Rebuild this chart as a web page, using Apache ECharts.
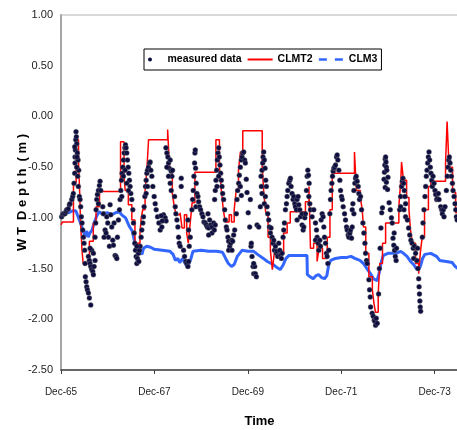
<!DOCTYPE html>
<html>
<head>
<meta charset="utf-8">
<script src="https://cdn.jsdelivr.net/npm/echarts@6/dist/echarts.min.js"></script>
<style>
  html, body { margin: 0; padding: 0; background: #fff; }
  #chart { width: 457px; height: 430px; }
</style>
</head>
<body>
<div id="chart"></div>
<script>
// x = months since Dec-65, y = water table depth (m)
var xTickLabels = ['Dec-65', 'Dec-67', 'Dec-69', 'Dec-71', 'Dec-73'];

var measured = [
  [0.17,-0.99],[0.43,-0.97],[0.6,-0.96],[1.03,-0.96],[1.29,-0.94],[1.46,-0.92],[1.89,-0.91],[2.15,-0.87],[2.32,-0.86],[2.75,-0.82],[3.0,-0.79],[3.17,-0.76],
  [3.35,-0.66],[3.52,-0.56],[3.6,-0.46],[3.69,-0.33],[3.78,-0.23],[3.86,-0.15],[4.03,-0.27],[4.2,-0.36],[4.38,-0.43],[4.55,-0.53],[3.6,-0.4],[4.03,-0.5],[4.29,-0.59],[4.46,-0.69],[4.72,-0.79],[3.52,-0.3],[3.95,-0.2],[4.12,-0.4],
  [4.89,-0.82],[5.06,-0.89],[5.23,-0.99],[5.41,-1.05],[5.58,-1.12],[5.75,-1.19],[5.92,-1.25],[6.09,-1.32],[6.18,-1.45],[6.26,-1.58],[6.44,-1.63],[6.61,-1.68],[6.78,-1.71],[7.04,-1.74],[7.29,-1.79],[7.64,-1.86],
  [7.04,-1.38],[7.29,-1.42],[7.47,-1.45],[7.64,-1.48],[7.89,-1.51],[8.15,-1.53],[8.32,-1.56],[8.5,-1.48],[8.75,-1.42],[7.89,-1.32],[8.32,-1.35],[7.47,-1.3],
  [8.75,-1.19],[8.92,-1.05],[9.01,-0.92],[9.18,-0.82],[9.35,-0.77],[9.61,-0.73],[9.87,-0.68],[10.04,-0.64],[10.21,-0.73],[9.61,-0.86],
  [10.73,-0.89],[10.9,-0.96],[11.07,-1.19],[11.33,-1.12],[11.58,-1.15],[11.75,-0.99],[12.01,-1.05],[12.18,-1.19],[12.44,-1.28],[12.61,-0.87],[12.78,-0.97],[13.04,-1.09],[13.3,-1.22],[13.47,-1.27],[13.64,-1.05],[13.9,-1.37],[14.16,-1.38],[14.33,-1.4],[14.5,-1.19],
  [14.76,-1.02],[15.02,-0.92],[15.19,-0.82],[15.36,-0.73],[15.53,-0.63],[15.7,-0.56],[15.87,-0.5],[16.04,-0.43],[16.22,-0.36],[16.39,-0.31],[16.56,-0.28],[16.73,-0.31],[16.9,-0.36],[17.08,-0.43],[17.25,-0.5],[17.42,-0.56],[17.59,-0.63],[17.76,-0.69],[17.93,-0.76],[18.19,-0.82],[16.04,-0.59],[16.47,-0.53],[16.9,-0.66],[15.62,-0.79],[17.33,-0.73],
  [18.45,-0.92],[18.62,-1.05],[18.79,-1.15],[18.96,-1.25],[19.13,-1.32],[19.31,-1.38],[19.48,-1.45],[19.65,-1.4],[19.91,-1.35],[20.16,-1.32],[20.33,-1.28],[20.59,-1.19],[20.76,-1.12],[21.02,-1.05],[19.48,-1.28],[19.99,-1.43],
  [21.19,-0.99],[21.36,-0.89],[21.54,-0.79],[21.71,-0.69],[21.88,-0.63],[22.05,-0.56],[22.22,-0.53],[22.48,-0.5],[22.74,-0.46],[22.91,-0.45],[23.08,-0.53],[23.34,-0.59],[21.88,-0.76],[22.22,-0.69],
  [23.59,-0.69],[23.94,-0.79],[24.2,-0.86],[24.45,-0.92],[24.8,-0.99],[25.14,-1.05],[25.48,-1.12],[25.91,-1.09],[26.34,-0.97],[26.77,-1.0],[27.0,-1.03],[25.7,-0.98],[26.0,-1.03],
  [26.95,-0.31],[27.2,-0.36],[27.46,-0.4],[27.63,-0.46],[27.8,-0.51],[28.06,-0.43],[28.32,-0.54],[28.49,-0.59],[28.66,-0.53],[28.06,-0.66],[28.32,-0.73],[27.2,-0.5],[27.63,-0.59],[30.89,-0.61],[30.89,-0.69],
  [29.18,-0.79],[29.35,-0.89],[29.52,-0.96],[29.78,-1.02],[30.03,-1.09],[30.21,-1.19],[30.38,-1.25],[30.63,-1.28],[31.49,-1.32],[31.75,-1.38],[32.09,-1.43],[32.35,-1.45],[32.61,-1.48],[32.78,-1.43],[32.95,-1.28],[33.21,-1.19],[32.61,-1.02],[32.78,-1.12],
  [33.64,-0.92],[33.81,-0.82],[33.98,-0.73],[34.15,-0.59],[34.32,-0.46],[34.41,-0.36],[34.5,-0.33],[34.58,-0.51],[34.75,-0.66],[34.93,-0.76],[34.67,-0.89],
  [35.18,-0.79],[35.35,-0.84],[35.61,-0.89],[35.87,-0.92],[36.21,-0.96],[36.47,-0.99],[36.73,-1.04],[37.07,-1.05],[37.33,-1.07],[37.58,-1.09],[37.93,-1.1],[37.76,-0.96],[38.19,-1.02],[38.44,-1.07],[38.79,-1.09],[39.21,-1.05],[39.64,-1.07],[38.79,-1.15],[39.39,-1.12],[37.93,-1.17],
  [39.47,-0.82],[39.64,-0.73],[39.82,-0.63],[39.99,-0.53],[40.16,-0.43],[40.33,-0.36],[40.5,-0.31],[40.67,-0.4],[40.85,-0.48],[41.02,-0.56],[41.19,-0.63],[41.36,-0.69],[41.53,-0.76],[41.79,-0.82],[40.5,-0.59],[40.07,-0.69],
  [42.05,-0.92],[42.22,-1.02],[42.48,-1.09],[42.65,-1.12],[42.9,-1.19],[43.08,-1.23],[43.33,-1.28],[43.59,-1.25],[43.85,-1.22],[44.11,-1.23],[44.36,-1.17],[44.62,-1.12],[43.08,-1.32],[43.93,-1.32],
  [45.05,-0.96],[45.22,-0.82],[45.39,-0.73],[45.65,-0.66],[45.82,-0.58],[46.08,-0.5],[46.34,-0.43],[46.51,-0.4],[46.68,-0.36],[46.94,-0.35],[47.19,-0.43],[47.37,-0.46],[46.08,-0.69],[46.34,-0.78],
  [47.6,-0.62],[47.8,-0.75],[48.1,-0.95],[48.48,-1.09],[48.82,-1.28],[49.08,-1.38],[49.34,-1.48],[49.51,-1.55],[49.77,-1.48],[48.65,-0.82],[48.9,-1.25],[49.5,-1.45],[49.94,-1.55],[50.2,-1.58],[50.37,-1.07],[50.8,-1.09],
  [51.22,-0.89],[51.4,-0.59],[51.48,-0.69],[51.65,-0.53],[51.82,-0.46],[51.91,-0.4],[52.08,-0.35],[52.25,-0.43],[52.43,-0.51],[52.6,-0.63],[52.77,-0.69],[52.51,-0.79],[52.25,-0.86],[51.65,-0.76],
  [52.94,-0.89],[53.11,-0.96],[53.37,-1.02],[53.54,-1.09],[53.8,-1.15],[53.97,-1.1],[54.23,-1.19],[54.48,-1.25],[54.66,-1.22],[54.83,-1.32],[55.09,-1.28],[55.34,-1.35],[55.51,-1.33],[55.69,-1.38],[55.94,-1.25],[56.2,-1.32],[56.37,-1.37],[56.63,-1.4],[56.8,-1.35],
  [57.06,-1.19],[57.23,-1.12],[57.4,-1.05],[57.66,-0.92],[57.92,-0.86],[58.09,-0.79],
  [58.26,-0.73],[58.52,-0.66],[58.77,-0.63],[58.95,-0.61],[59.12,-0.69],[59.37,-0.76],[59.63,-0.82],[59.8,-0.79],[60.06,-0.86],[60.23,-0.89],[60.49,-0.92],[60.66,-0.82],[60.92,-0.79],[61.09,-0.87],[61.35,-0.92],[61.52,-0.99],[60.66,-1.02],[61.95,-0.96],[61.95,-1.07],[62.21,-1.12],[62.38,-1.09],[62.64,-1.0],[62.81,-0.96],
  [63.06,-0.73],[63.24,-0.59],[63.41,-0.53],[63.58,-0.58],[63.75,-0.66],[63.67,-0.79],[63.92,-0.86],[64.09,-0.92],[64.52,-0.99],[64.95,-0.92],[65.38,-1.05],[65.64,-1.12],[65.81,-1.19],[65.38,-1.22],[66.07,-1.25],[66.24,-1.32],[66.5,-1.22],[66.67,-1.28],[66.84,-1.02],[67.1,-0.96],[67.35,-0.99],[67.53,-1.09],[67.7,-1.19],[67.96,-1.25],[68.21,-1.35],[68.38,-1.38],[68.56,-1.45],[68.81,-1.32],
  [69.07,-0.96],[69.24,-0.82],[69.41,-0.73],[69.59,-0.66],[69.76,-0.59],[69.93,-0.54],[70.1,-0.51],[70.27,-0.5],[70.53,-0.48],[70.79,-0.4],[70.96,-0.38],[71.13,-0.43],[71.39,-0.53],
  [71.64,-0.63],[71.82,-0.73],[72.07,-0.79],[72.25,-0.82],[72.5,-0.89],[72.85,-0.96],[73.1,-1.02],[73.36,-1.09],[73.53,-1.12],[73.79,-1.17],[74.05,-1.15],[74.3,-1.19],[73.96,-1.19],[74.22,-1.15],[74.39,-1.12],[74.64,-1.2],[74.82,-1.09],
  [74.99,-0.86],[75.25,-0.73],[75.5,-0.66],[75.67,-0.61],[75.85,-0.59],[76.1,-0.64],[76.36,-0.69],[76.53,-0.76],[76.7,-0.82],[76.96,-0.79],[77.22,-0.92],[75.25,-0.96],[74.82,-0.92],
  [77.56,-1.05],[77.82,-1.15],[78.08,-1.25],[78.25,-1.35],[78.51,-1.42],[78.68,-1.45],[79.11,-1.61],[79.28,-1.71],[79.45,-1.78],[79.54,-1.88],[79.96,-1.94],[80.22,-1.97],[80.48,-2.01],[80.65,-2.02],[80.82,-2.06],[81.0,-1.99],[81.25,-2.04],
  [81.6,-1.75],[81.8,-1.5],[82.0,-1.3],[82.2,-1.1],[82.4,-0.95],[82.6,-0.9],
  [83.0,-0.62],[83.1,-0.55],[83.2,-0.48],[83.3,-0.42],[83.4,-0.4],[83.5,-0.45],[83.6,-0.5],[83.7,-0.53],[83.3,-0.7],[83.6,-0.65],[83.9,-0.72],[84.0,-0.6],
  [84.3,-0.85],[84.6,-0.92],[84.9,-1.0],[85.1,-1.05],[85.3,-1.2],[85.5,-1.27],[85.7,-1.32],[85.9,-1.38],[86.1,-1.42],[85.6,-1.15],[86.2,-1.3],
  [87.0,-0.92],[87.26,-0.79],[87.51,-0.69],[87.69,-0.64],[87.86,-0.61],[88.03,-0.66],[88.2,-0.73],[88.37,-0.79],[88.54,-0.86],[88.12,-0.92],[87.26,-0.89],[88.54,-0.99],
  [89.0,-1.02],[89.3,-1.1],[89.6,-1.17],[89.9,-1.22],[90.2,-1.25],[90.5,-1.3],[90.8,-1.28],[91.1,-1.35],[91.4,-1.42],[91.7,-1.5],[91.9,-1.6],[92.0,-1.68],[92.1,-1.75],[92.2,-1.82],[92.3,-1.88],[92.4,-1.92],[91.6,-1.3],[90.6,-1.4],
  [92.83,-1.19],[93.0,-1.05],[93.26,-0.92],[93.52,-0.79],[93.69,-0.69],[93.86,-0.59],[94.04,-0.53],[94.21,-0.46],[94.38,-0.4],[94.55,-0.35],[94.72,-0.43],[94.89,-0.5],[95.07,-0.56],[95.24,-0.63],[95.41,-0.69],[95.58,-0.59],
  [95.84,-0.66],[96.09,-0.73],[96.27,-0.77],[96.52,-0.82],[96.7,-0.81],[96.95,-0.76],[97.12,-0.82],[97.55,-0.89],[97.81,-0.92],[97.98,-0.96],[98.24,-0.92],[98.41,-0.99],[98.67,-0.89],
  [99.01,-0.73],[99.27,-0.59],[99.44,-0.5],[99.61,-0.43],[99.78,-0.4],[99.96,-0.46],[100.13,-0.53],[100.3,-0.59],[100.56,-0.66],[100.73,-0.73],[100.99,-0.79],[101.24,-0.86],[101.41,-0.92],[101.59,-0.99],[101.76,-1.02]
];

// CLMT2: value holds from each month until the next entry
var clmt2 = [
  [0,-1.07],[0.4,-1.04],[3.2,-0.65],[3.9,-0.23],[4.5,-0.45],[4.8,-0.75],[5.0,-1.02],[5.4,-1.32],[5.7,-1.45],[7.3,-1.23],[8.3,-1.05],[9.0,-0.89],[9.9,-0.74],
  [15.3,-0.25],[16.2,-0.6],[16.5,-0.73],[17.3,-0.87],[18.2,-1.02],[19.0,-1.25],[20.3,-1.15],[20.6,-1.0],[21.0,-0.92],[21.6,-0.74],[22.0,-0.55],[22.2,-0.43],[22.5,-0.23],
  [27.4,-0.13],[27.8,-0.45],[28.0,-0.55],[28.6,-0.76],[29.1,-0.89],[29.6,-0.97],[30.6,-0.95],[31.1,-1.1],[31.7,-0.97],[32.3,-1.15],[32.7,-1.25],[33.2,-1.05],[33.7,-0.85],[34.4,-0.55],
  [39.8,-0.23],[40.7,-0.5],[41.2,-0.73],[41.7,-0.92],[42.2,-1.04],[43.2,-0.97],[43.8,-1.04],[44.5,-0.92],[45.0,-0.73],[45.6,-0.53],[46.1,-0.35],[46.7,-0.14],
  [51.7,-0.5],[52.1,-0.75],[52.6,-0.95],[53.2,-1.19],[53.8,-1.32],[54.3,-1.51],[54.8,-1.35],[55.6,-1.38],[56.4,-1.35],[57.2,-1.15],[58.1,-1.05],[58.9,-0.94],
  [62.8,-0.84],[63.7,-0.69],[64.1,-1.3],[64.9,-1.25],[65.8,-1.43],[66.3,-1.3],[67.2,-1.4],[68.4,-1.19],[69.1,-0.92],[69.7,-0.56],
  [75.4,-0.35],[75.9,-0.73],[76.9,-0.8],[77.4,-0.92],[77.7,-1.09],[78.3,-1.35],[79.1,-1.58],[80.0,-1.71],[80.4,-1.84],[80.8,-1.93],[81.5,-1.75],[81.9,-1.45],[82.6,-1.25],[83.4,-1.05],
  [86.8,-0.89],[87.3,-0.63],[87.5,-0.45],[88.0,-0.63],[88.8,-0.8],[89.4,-0.92],[89.8,-1.12],[90.3,-1.25],[91.1,-1.45],[91.9,-1.55],[92.3,-1.35],[92.8,-1.19],[93.4,-0.92],[94.4,-0.69],[95.0,-0.64],
  [98.8,-0.46],[99.2,-0.05],[99.7,-0.5],[100.6,-0.75],[101.4,-0.95],[102,-0.95]
];

var clm3 = [
  [0,-0.96],[1,-0.94],[2,-0.95],[3,-0.93],[3.8,-0.93],[4.3,-0.98],[5.0,-1.05],[5.6,-1.12],[6.2,-1.18],[6.6,-1.13],[7.0,-1.19],[7.4,-1.15],[8.0,-1.12],[8.5,-1.05],[9.2,-0.98],[9.8,-0.94],
  [10.5,-0.96],[12,-0.95],[13,-0.97],[14,-0.95],[15,-0.94],[15.6,-0.97],[16.6,-1.0],[17.5,-1.08],[18.3,-1.13],[19.0,-1.25],[19.6,-1.3],[20.2,-1.33],[20.8,-1.36],[21.2,-1.3],[22.0,-1.28],
  [23,-1.29],[24,-1.31],[26,-1.32],[28,-1.33],[28.8,-1.36],[29.4,-1.42],[30,-1.4],[30.5,-1.44],[31.3,-1.4],[31.9,-1.45],[32.5,-1.49],[32.9,-1.5],[33.4,-1.4],[33.9,-1.33],
  [36,-1.32],[38,-1.33],[40,-1.33],[41.5,-1.34],[42.3,-1.4],[43.0,-1.45],[43.8,-1.48],[44.5,-1.46],[45.3,-1.38],[46.5,-1.32],[48,-1.33],[49.5,-1.33],[50.5,-1.36],
  [52,-1.4],[53,-1.43],[54.5,-1.46],[55.5,-1.49],[56.3,-1.51],[57,-1.47],[57.8,-1.4],[58.6,-1.37],[60,-1.37],[62,-1.37],[63.2,-1.37],[63.3,-1.56],[64,-1.58],[64.8,-1.6],
  [65.5,-1.57],[66.2,-1.56],[67,-1.59],[67.7,-1.6],[68.3,-1.57],[68.8,-1.46],[69.3,-1.42],[70.5,-1.4],[72,-1.39],[73.5,-1.39],[74.5,-1.38],[75.5,-1.4],[76.8,-1.42],
  [77.7,-1.45],[78.6,-1.5],[79.5,-1.55],[80.3,-1.6],[81.2,-1.62],[81.7,-1.55],[82.2,-1.45],[82.8,-1.37],[84,-1.35],[86,-1.35],[87.3,-1.33],[88,-1.35],[88.9,-1.38],
  [89.8,-1.43],[90.6,-1.46],[91.3,-1.5],[91.9,-1.51],[92.4,-1.47],[92.9,-1.4],[93.5,-1.36],[95,-1.35],[96.5,-1.38],[97.3,-1.42],[99,-1.43],[100.5,-1.44],[101.3,-1.48],[102,-1.5]
];

var chart = echarts.init(document.getElementById('chart'));
var font = 'Liberation Sans, Arial, sans-serif';
var noDot = { color: 'rgba(0,0,0,0)', borderWidth: 0 };

var option = {
  backgroundColor: '#fff',
  animation: false,
  textStyle: { fontFamily: font },
  grid: {
    left: 61, top: 15, right: -1, bottom: 60,
    containLabel: false,
    outerBoundsMode: 'none',
    show: true, borderColor: '#b3b3b3', borderWidth: 1
  },
  legend: {
    left: 144, top: 49,
    padding: [5, 4],
    itemGap: 5,
    itemWidth: 25,
    itemHeight: 4,
    borderColor: '#000',
    borderWidth: 1,
    backgroundColor: '#fff',
    textStyle: { fontSize: 10.5, fontWeight: 'bold', color: '#000', fontFamily: font },
    data: [
      { name: 'measured data', icon: 'circle', itemStyle: { color: '#0d0d40', borderWidth: 0 } },
      { name: 'CLMT2', itemStyle: noDot },
      { name: 'CLM3', itemStyle: noDot, lineStyle: { type: [8, 8], width: 2.5 } }
    ]
  },
  xAxis: {
    type: 'value',
    min: 0, max: 102, interval: 24,
    name: 'Time',
    nameLocation: 'middle',
    nameGap: 45,
    nameMoveOverlap: false,
    nameTextStyle: { fontWeight: 'bold', fontSize: 13, color: '#000' },
    axisLine: { onZero: false, lineStyle: { color: '#404040', width: 1.5 } },
    axisTick: { show: true, length: 4, lineStyle: { color: '#404040' } },
    axisLabel: {
      margin: 17, fontSize: 10, color: '#222', showMaxLabel: false,
      formatter: function (v) { return v % 24 === 0 ? xTickLabels[v / 24] : ''; }
    },
    splitLine: { show: false }
  },
  yAxis: {
    type: 'value',
    min: -2.5, max: 1, interval: 0.5,
    name: 'W T  D e p t h  ( m )',
    nameLocation: 'middle',
    nameGap: 32,
    nameMoveOverlap: false,
    nameTextStyle: { fontWeight: 'bold', fontSize: 13, color: '#000' },
    axisLine: { show: true, onZero: false, lineStyle: { color: '#a6a6a6', width: 2 } },
    axisTick: { show: false },
    axisLabel: {
      margin: 8, fontSize: 11, color: '#222',
      formatter: function (v) { return v.toFixed(2); }
    },
    splitLine: { show: false }
  },
  series: [
    {
      name: 'CLM3', type: 'line', data: clm3,
      symbol: 'none', showSymbol: false,
      lineStyle: { color: '#3366ff', width: 3 },
      itemStyle: { color: '#3366ff' },
      z: 2
    },
    {
      name: 'CLMT2', type: 'line', step: 'end', data: clmt2,
      symbol: 'none', showSymbol: false,
      lineStyle: { color: '#ff0000', width: 1.5 },
      itemStyle: { color: '#ff0000' },
      z: 3
    },
    {
      name: 'measured data', type: 'scatter', data: measured,
      symbolSize: 5,
      itemStyle: { color: '#0d0d40', borderColor: '#777', borderWidth: 0.4, opacity: 1 },
      z: 4
    }
  ]
};
chart.setOption(option);
</script>
</body>
</html>
